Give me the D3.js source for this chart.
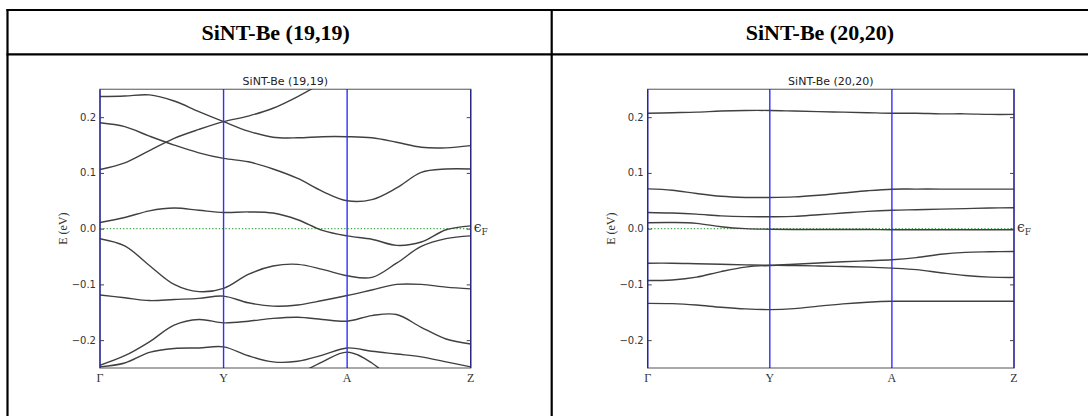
<!DOCTYPE html>
<html>
<head>
<meta charset="utf-8">
<script src="https://cdn.jsdelivr.net/npm/d3@7"></script>
<style>
  html, body { margin: 0; padding: 0; background: #fff; }
  svg { display: block; }
</style>
</head>
<body>
<div id="chart"></div>
<script>
// k path: Γ -> Y -> A -> Z, sampled every 0.2
const kGrid = [0, 0.2, 0.4, 0.6, 0.8, 1.0, 1.2, 1.4, 1.6, 1.8, 2.0, 2.2, 2.4, 2.6, 2.8, 3.0];
const kLabels = ["Γ", "Y", "A", "Z"];
const yTicks = [-0.2, -0.1, 0.0, 0.1, 0.2];
const headers = ["SiNT-Be (19,19)", "SiNT-Be (20,20)"];

// SiNT-Be (19,19) bands, eV
const bands19 = [
  [0.237, 0.238, 0.240, 0.229, 0.210, 0.192, 0.175, 0.164, 0.163, 0.165, 0.165, 0.163, 0.155, 0.146, 0.145, 0.149],
  [0.190, 0.183, 0.166, 0.150, 0.136, 0.126, 0.120, 0.107, 0.090, 0.067, 0.050, 0.052, 0.073, 0.101, 0.107, 0.107],
  [0.106, 0.118, 0.140, 0.162, 0.178, 0.192, 0.202, 0.216, 0.237, 0.262, 0.290, null, null, null, null, null],
  [0.011, 0.020, 0.032, 0.037, 0.033, 0.029, 0.030, 0.028, 0.016, -0.003, -0.013, -0.019, -0.030, -0.024, -0.002, 0.005],
  [-0.018, -0.031, -0.066, -0.100, -0.113, -0.107, -0.082, -0.067, -0.064, -0.073, -0.0845, -0.0875, -0.062, -0.032, -0.018, -0.013],
  [-0.119, -0.124, -0.129, -0.127, -0.125, -0.121, -0.133, -0.139, -0.137, -0.129, -0.120, -0.110, -0.100, -0.100, -0.105, -0.108],
  [-0.245, -0.228, -0.203, -0.173, -0.163, -0.169, -0.166, -0.161, -0.159, -0.163, -0.166, -0.156, -0.154, -0.177, -0.198, -0.207],
  [-0.248, -0.241, -0.222, -0.215, -0.214, -0.212, -0.228, -0.239, -0.238, -0.227, -0.214, -0.220, -0.225, -0.230, -0.239, -0.248],
  [null, null, null, null, null, null, null, null, -0.262, -0.239, -0.2215, -0.241, -0.280, null, null, null]
];

// SiNT-Be (20,20) bands, eV
const bands20 = [
  [0.207, 0.208, 0.209, 0.211, 0.212, 0.212, 0.211, 0.210, 0.209, 0.208, 0.207, 0.207, 0.206, 0.206, 0.205, 0.205],
  [0.0714, 0.069, 0.063, 0.058, 0.056, 0.056, 0.057, 0.060, 0.064, 0.068, 0.0708, 0.071, 0.071, 0.071, 0.071, 0.071],
  [0.029, 0.028, 0.026, 0.023, 0.0215, 0.0214, 0.022, 0.025, 0.028, 0.031, 0.033, 0.034, 0.035, 0.036, 0.037, 0.0375],
  [0.0107, 0.011, 0.0095, 0.0035, 0.000, -0.001, -0.0015, -0.0015, -0.0015, -0.0015, -0.002, -0.002, -0.002, -0.002, -0.002, -0.002],
  [-0.062, -0.062, -0.063, -0.064, -0.065, -0.0655, -0.0638, -0.0615, -0.0595, -0.0577, -0.0559, -0.052, -0.046, -0.0425, -0.0415, -0.041],
  [-0.093, -0.092, -0.087, -0.077, -0.069, -0.066, -0.0662, -0.067, -0.068, -0.069, -0.0708, -0.0735, -0.079, -0.084, -0.087, -0.0875],
  [-0.134, -0.1345, -0.137, -0.141, -0.144, -0.1452, -0.1435, -0.139, -0.135, -0.132, -0.1303, -0.1303, -0.1303, -0.1303, -0.1303, -0.1303]
];

const W = 1088, H = 416;
const svg = d3.select("#chart").append("svg")
  .attr("width", W).attr("height", H)
  .style("font-family", "DejaVu Sans, sans-serif");

// table frame
const colX = [7.5, 551.7, 1096];
const tableTop = 10, headBottom = 54.3;
const frame = svg.append("g").attr("stroke", "#000").attr("stroke-width", 2.2);
frame.append("line").attr("x1", colX[0] - 1).attr("x2", W).attr("y1", tableTop).attr("y2", tableTop);
frame.append("line").attr("x1", colX[0] - 1).attr("x2", W).attr("y1", headBottom).attr("y2", headBottom);
frame.append("line").attr("x1", colX[0]).attr("x2", colX[0]).attr("y1", tableTop - 1).attr("y2", H);
frame.append("line").attr("x1", colX[1]).attr("x2", colX[1]).attr("y1", tableTop - 1).attr("y2", H);

headers.forEach((h, i) => {
  svg.append("text")
    .attr("x", (colX[i] + colX[i + 1]) / 2 - 4)
    .attr("y", 39.5)
    .attr("text-anchor", "middle")
    .style("font-family", "Liberation Serif, Times New Roman, serif")
    .style("font-weight", "bold")
    .style("font-size", "22px")
    .text(h);
});

const panels = [
  { title: headers[0], bands: bands19, left: 100, right: 470.7 },
  { title: headers[1], bands: bands20, left: 647.7, right: 1014 }
];
const plotTop = 89.3, plotBottom = 368;

panels.forEach((p, pi) => {
  const x = d3.scaleLinear().domain([0, 3]).range([p.left, p.right]);
  const y = d3.scaleLinear().domain([-0.25, 0.25]).range([plotBottom, plotTop]);
  const g = svg.append("g");

  const clipId = "clip" + pi;
  g.append("clipPath").attr("id", clipId)
    .append("rect")
    .attr("x", p.left).attr("y", plotTop)
    .attr("width", p.right - p.left).attr("height", plotBottom - plotTop);

  // Fermi level
  g.append("line")
    .attr("x1", p.left).attr("x2", p.right)
    .attr("y1", y(0)).attr("y2", y(0))
    .attr("stroke", "#46a846").attr("stroke-width", 1.1)
    .attr("stroke-dasharray", "1.3,2");

  // bands
  const line = d3.line()
    .defined(d => d[1] !== null)
    .x(d => x(d[0])).y(d => y(d[1]))
    .curve(d3.curveCatmullRom.alpha(0.5));
  g.append("g").attr("clip-path", `url(#${clipId})`)
    .selectAll("path")
    .data(p.bands)
    .join("path")
    .attr("d", b => line(b.map((v, i) => [kGrid[i], v])))
    .attr("fill", "none")
    .attr("stroke", "#404040")
    .attr("stroke-width", 1.4);

  // high-symmetry verticals
  g.selectAll("line.sym")
    .data(kLabels)
    .join("line")
    .attr("class", "sym")
    .attr("x1", (d, i) => x(i)).attr("x2", (d, i) => x(i))
    .attr("y1", plotTop).attr("y2", plotBottom)
    .attr("stroke", "#2f2fff").attr("stroke-width", 1.4);

  // axes box
  g.append("rect")
    .attr("x", p.left).attr("y", plotTop)
    .attr("width", p.right - p.left).attr("height", plotBottom - plotTop)
    .attr("fill", "none").attr("stroke", "#222").attr("stroke-opacity", 0.6)
    .attr("stroke-width", 1.3);

  // y axis (ticks inward on both sides)
  const yAxisL = d3.axisRight(y).tickValues(yTicks).tickSize(4).tickFormat("");
  g.append("g").attr("transform", `translate(${p.left},0)`).call(yAxisL)
    .call(a => a.select(".domain").remove())
    .selectAll("line").attr("stroke", "#444");
  const yAxisR = d3.axisLeft(y).tickValues(yTicks).tickSize(4).tickFormat("");
  g.append("g").attr("transform", `translate(${p.right},0)`).call(yAxisR)
    .call(a => a.select(".domain").remove())
    .selectAll("line").attr("stroke", "#444");

  g.selectAll("text.ytick")
    .data(yTicks)
    .join("text")
    .attr("class", "ytick")
    .attr("x", p.left - 4)
    .attr("y", d => y(d))
    .attr("dy", "0.35em")
    .attr("text-anchor", "end")
    .style("font-size", "10px")
    .attr("fill", "#333")
    .text(d => d3.format(".1f")(d).replace("-", "\u2212"));

  // x labels
  g.selectAll("text.xtick")
    .data(kLabels)
    .join("text")
    .attr("class", "xtick")
    .attr("x", (d, i) => x(i))
    .attr("y", plotBottom + 14)
    .attr("text-anchor", "middle")
    .style("font-family", "Liberation Serif, serif")
    .style("font-size", "12px")
    .attr("fill", "#333")
    .text(d => d);

  // y label
  g.append("text")
    .attr("transform", `translate(${p.left - 33},${y(0)}) rotate(-90)`)
    .attr("text-anchor", "middle")
    .style("font-family", "Liberation Serif, serif")
    .style("font-size", "12px")
    .attr("fill", "#333")
    .text("E (eV)");

  // title
  g.append("text")
    .attr("x", (p.left + p.right) / 2)
    .attr("y", plotTop - 4)
    .attr("text-anchor", "middle")
    .style("font-size", "11px")
    .attr("fill", "#222")
    .text(p.title);

  // Fermi label
  const ef = g.append("text")
    .attr("x", p.right + 3)
    .attr("y", y(0) + 3)
    .style("font-family", "DejaVu Serif, serif")
    .attr("fill", "#333");
  ef.append("tspan").style("font-size", "14px").text("\u03f5");
  ef.append("tspan").style("font-size", "9px").attr("dy", 3).text("F");
});
</script>
</body>
</html>
